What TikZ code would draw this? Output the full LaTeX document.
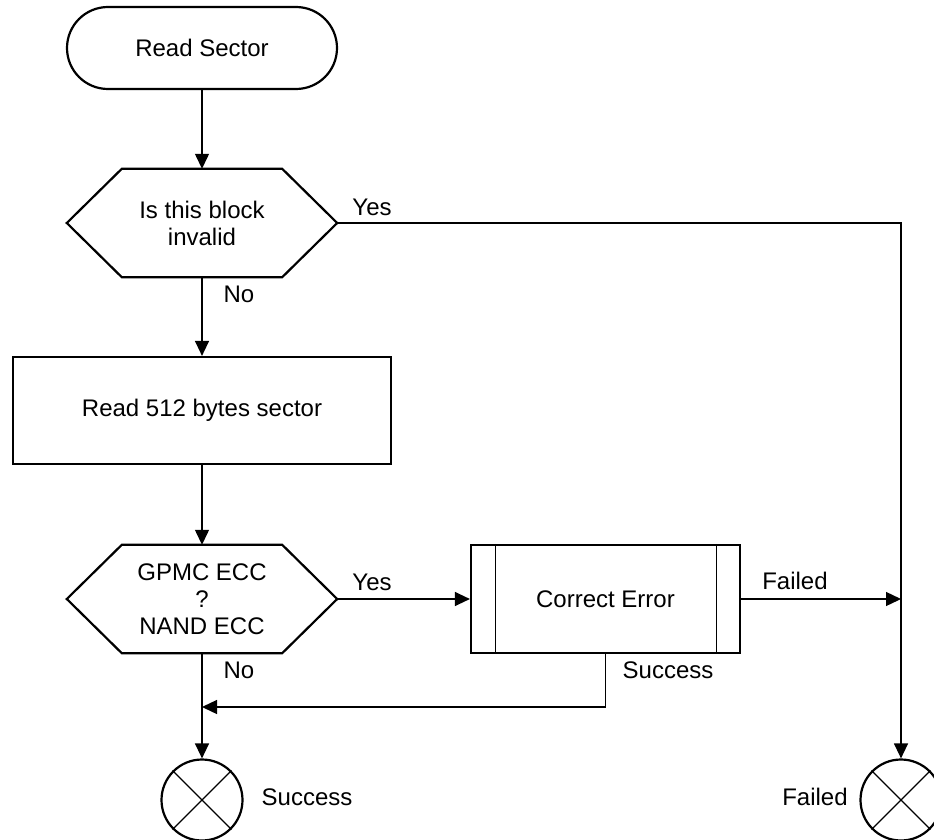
\documentclass[tikz,border=0pt]{standalone}
\usepackage{fontspec}
\setmainfont{Liberation Sans}
\usetikzlibrary{arrows.meta}
\begin{document}
\begin{tikzpicture}[x=1pt,y=-1pt,
  every node/.style={font=\fontsize{24}{27}\selectfont, inner sep=0pt},
  shapeline/.style={draw=black, line width=2.2pt},
  thinline/.style={draw=black, line width=1.1pt},
  conn/.style={draw=black, line width=1.3pt},
  arr/.style={conn, -{Triangle[length=15pt,width=14pt]}},
  hexbox/.style={minimum width=270pt, minimum height=108pt, align=center},
  endcircle/.style={shapeline, circle, minimum size=81pt},
]
\useasboundingbox (0,0) rectangle (934,840);

% start terminal
\node[shapeline, rounded corners=41pt, minimum width=270pt, minimum height=82pt] (start) at (202,48) {Read Sector};

% decision 1
\node[hexbox] (h1) at (202,223) {Is this block\\invalid};
\draw[shapeline] ([xshift=55pt]h1.north west) -- ([xshift=-55pt]h1.north east) -- (h1.east)
  -- ([xshift=-55pt]h1.south east) -- ([xshift=55pt]h1.south west) -- (h1.west) -- cycle;

% process
\node[shapeline, minimum width=378pt, minimum height=107pt] (rd) at (202,410.5) {Read 512 bytes sector};

% decision 2
\node[hexbox] (h2) at (202,599) {GPMC ECC\\?\\NAND ECC};
\draw[shapeline] ([xshift=55pt]h2.north west) -- ([xshift=-55pt]h2.north east) -- (h2.east)
  -- ([xshift=-55pt]h2.south east) -- ([xshift=55pt]h2.south west) -- (h2.west) -- cycle;

% predefined process
\node[shapeline, minimum width=269pt, minimum height=108pt] (ce) at (605.5,599) {Correct Error};
\draw[thinline] ([xshift=26pt]ce.north west) -- ([xshift=26pt]ce.south west);
\draw[thinline] ([xshift=-25pt]ce.north east) -- ([xshift=-25pt]ce.south east);

% end circles
\node[endcircle] (ok) at (202,800) {};
\draw[thinline] (ok.north west) -- (ok.south east) (ok.north east) -- (ok.south west);
\node[endcircle] (fail) at (901,800) {};
\draw[thinline] (fail.north west) -- (fail.south east) (fail.north east) -- (fail.south west);

% connectors
\draw[arr] (start.south) -- (h1.north);
\draw[arr] (h1.east) -| (fail.north);
\draw[arr] (h1.south) -- (rd.north);
\draw[arr] (rd.south) -- (h2.north);
\draw[arr] (h2.east) -- (ce.west);
\coordinate (fj) at (fail.north |- ce.east);
\draw[arr] (ce.east) -- (fj);
\coordinate (mj) at (202,707);
\draw[arr] (ce.south) |- (mj);
\draw[arr] (h2.south) -- (ok.north);

% labels
\node (yes1) at (372,207) {Yes};
\node (no1) at (239,294) {No};
\node (yes2) at (372,582) {Yes};
\node (no2) at (239,670) {No};
\node (failedlbl) at (795,581) {Failed};
\node (successlbl) at (668,670) {Success};
\node (oklbl) at (307,797) {Success};
\node (faillbl) at (815,797) {Failed};
\end{tikzpicture}
\end{document}
